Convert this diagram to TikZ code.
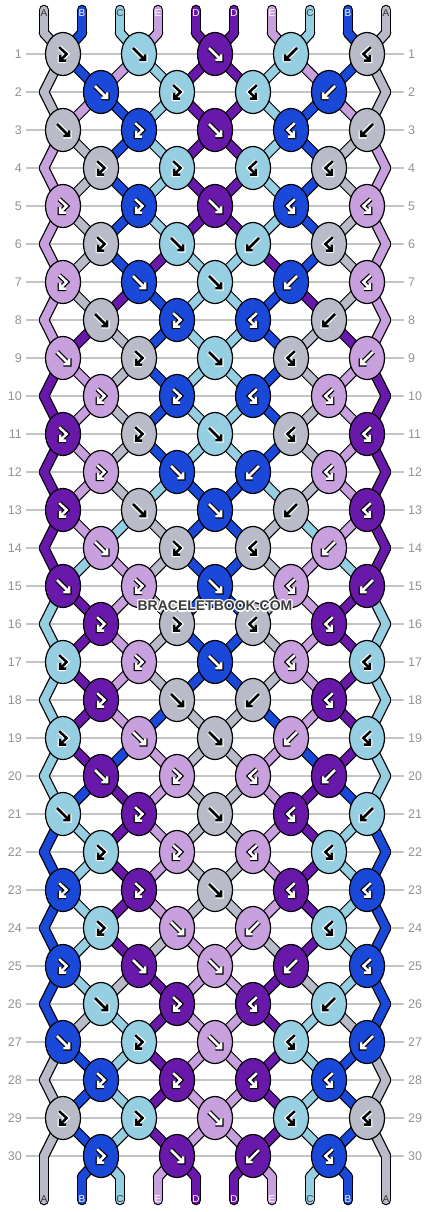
\documentclass[tikz,border=0pt]{standalone}
\usepackage{fontspec}
\setmainfont{Liberation Sans}
\definecolor{cA}{HTML}{B9BCC8}
\definecolor{cB}{HTML}{1A48D8}
\definecolor{cC}{HTML}{96CEE2}
\definecolor{cD}{HTML}{6919AA}
\definecolor{cE}{HTML}{C8A0DE}
\definecolor{gridc}{HTML}{C4C4C4}
\definecolor{numc}{HTML}{939393}
\definecolor{wmark}{HTML}{3C3C3C}
\colorlet{fgA}{black}\colorlet{bgA}{white}
\colorlet{fgC}{black}\colorlet{bgC}{white}
\colorlet{fgB}{white}\colorlet{bgB}{black}
\colorlet{fgD}{white}\colorlet{bgD}{black}
\colorlet{fgE}{white}\colorlet{bgE}{black}
\colorlet{lbA}{black!80}\colorlet{lbC}{black!75}
\colorlet{lbB}{white}\colorlet{lbD}{white}\colorlet{lbE}{white}
\tikzset{
 thrO/.style={line width=10.6, draw=black, line cap=round, line join=round},
 thrI/.style={line width=8.2, line cap=round, line join=round},
 knotst/.style={line width=1.2, draw=black},
 gridline/.style={draw=gridc, line width=1.2},
 rownum/.style={text=numc, font=\fontsize{12.5}{12.5}\selectfont, inner sep=0pt},
 toplab/.style={font=\fontsize{10}{10}\selectfont, inner sep=0pt},
 wm/.style={font=\bfseries\fontsize{14}{14}\selectfont, inner sep=0pt},
}
\newcommand\setpx[2]{%
  \ifnum#1=0 \pgfmathsetmacro\px{44+38*#2}%
  \else\ifnum#1=31 \pgfmathsetmacro\px{44+38*#2}%
  \else\ifodd#1 \pgfmathsetmacro\px{63+76*floor(#2/2)}%
  \else\ifnum#2=0 \def\px{44}%
  \else\ifnum#2=9 \def\px{386}%
  \else\pgfmathsetmacro\px{101+76*floor((#2-1)/2)}%
  \fi\fi\fi\fi\fi}
\newcommand\setpy[1]{%
  \ifnum#1=0 \def\py{33}%
  \else\ifnum#1=31 \def\py{1177}%
  \else\pgfmathsetmacro\py{54+38*(#1-1)}%
  \fi\fi}
\newcommand\seg[4]{%
  \setpx{#1}{#2}\let\xa\px \setpy{#1}\let\ya\py
  \pgfmathtruncatemacro\rn{#1+1}%
  \setpx{\rn}{#2}\setpy{\rn}%
  \edef\segcol{c#3}%
  \ifnum#4=0 \draw[thrO] (\xa,\ya) -- (\px,\py);%
  \else \draw[thrI, draw=\segcol] (\xa,\ya) -- (\px,\py);\fi}
\newcommand\glyph[2]{%
  \ifnum#1=0 \draw[#2] (-6,-6)--(6,6) (0.3,6)--(6,6)--(6,0.3);%
  \else \draw[#2] (-3.8,-6.8)--(3.6,0)--(-2.8,6.6) (-2.8,0.8)--(-2.8,6.6)--(3,6.6);\fi}
\newcommand\knot[5]{%
  \draw[knotst, fill=c#3] (#1,#2) ellipse [x radius=17.5, y radius=21.5];
  \begin{scope}[shift={(#1,#2)}, xscale=#5]
    \glyph{#4}{line width=5, draw=bg#3}
    \glyph{#4}{line width=2.5, draw=fg#3}
  \end{scope}}
\newcommand\oddrow[6]{%
  \pgfmathsetmacro\ky{54+38*(#1-1)}%
  \knot{63}{\ky}{#2}{#3}{1}\knot{367}{\ky}{#2}{#3}{-1}%
  \knot{139}{\ky}{#4}{#5}{1}\knot{291}{\ky}{#4}{#5}{-1}%
  \knot{215}{\ky}{#6}{0}{1}}
\newcommand\evenrow[5]{%
  \pgfmathsetmacro\ky{54+38*(#1-1)}%
  \knot{101}{\ky}{#2}{#3}{1}\knot{329}{\ky}{#2}{#3}{-1}%
  \knot{177}{\ky}{#4}{#5}{1}\knot{253}{\ky}{#4}{#5}{-1}}
\begin{document}
\begin{tikzpicture}[x=1pt,y=-1pt]
\fill[white] (0,0) rectangle (430,1212);
\useasboundingbox (0,0) rectangle (430,1212);
% grid lines and row numbers
\foreach \rw in {1,...,30}{
  \pgfmathsetmacro\gy{54+38*(\rw-1)}
  \draw[gridline] (26,\gy) -- (404,\gy);
  \node[rownum, anchor=east] (nl\rw) at (22,\gy) {\rw};
  \node[rownum, anchor=west] (nr\rw) at (408,\gy) {\rw};
}
% threads: pass 0 outlines, pass 1 colours
\foreach \pass in {0,1}{
  \foreach \i/\lt in {0/A,1/B,2/C,3/E,4/D,5/D,6/E,7/C,8/B,9/A}{
    \pgfmathsetmacro\tx{44+38*\i}
    \edef\segcol{c\lt}
    \ifnum\pass=0 \draw[thrO] (\tx,10)--(\tx,33) (\tx,1177)--(\tx,1200);
    \else \draw[thrI,draw=\segcol] (\tx,10)--(\tx,33) (\tx,1177)--(\tx,1200);\fi
  }
  \foreach \rw/\qa/\qb/\qc/\qd/\qe in {
    0/A/B/C/E/D, 1/A/B/E/C/D, 2/A/E/B/C/D, 3/E/A/B/C/D, 4/E/A/B/C/D,
    5/E/A/B/C/D, 6/E/A/B/D/C, 7/E/A/D/B/C, 8/E/D/A/B/C, 9/D/E/A/B/C,
    10/D/E/A/B/C, 11/D/E/A/B/C, 12/D/E/A/C/B, 13/D/E/C/A/B, 14/D/C/E/A/B,
    15/C/D/E/A/B, 16/C/D/E/A/B, 17/C/D/E/A/B, 18/C/D/E/B/A, 19/C/D/B/E/A,
    20/C/B/D/E/A, 21/B/C/D/E/A, 22/B/C/D/E/A, 23/B/C/D/E/A, 24/B/C/D/A/E,
    25/B/C/A/D/E, 26/B/A/C/D/E, 27/A/B/C/D/E, 28/A/B/C/D/E, 29/A/B/C/D/E,
    30/A/B/C/E/D}{
    \foreach \i/\lt in {0/\qa,1/\qb,2/\qc,3/\qd,4/\qe,5/\qe,6/\qd,7/\qc,8/\qb,9/\qa}{
      \seg{\rw}{\i}{\lt}{\pass}
    }
  }
}
% end labels
\foreach \i/\lt in {0/A,1/B,2/C,3/E,4/D,5/D,6/E,7/C,8/B,9/A}{
  \pgfmathsetmacro\tx{44+38*\i}
  \edef\labcol{lb\lt}
  \node[toplab, text=\labcol] (ta\i) at (\tx,13) {\lt};
  \node[toplab, text=\labcol] (ba\i) at (\tx,1199) {\lt};
}
% knots
\oddrow{1}{A}{1}{C}{0}{D}
\oddrow{3}{A}{0}{B}{1}{D}
\oddrow{5}{E}{1}{B}{1}{D}
\oddrow{7}{E}{1}{B}{0}{C}
\oddrow{9}{E}{0}{A}{1}{C}
\oddrow{11}{D}{1}{A}{1}{C}
\oddrow{13}{D}{1}{A}{0}{B}
\oddrow{15}{D}{0}{E}{1}{B}
\oddrow{17}{C}{1}{E}{1}{B}
\oddrow{19}{C}{1}{E}{0}{A}
\oddrow{21}{C}{0}{D}{1}{A}
\oddrow{23}{B}{1}{D}{1}{A}
\oddrow{25}{B}{1}{D}{0}{E}
\oddrow{27}{B}{0}{C}{1}{E}
\oddrow{29}{A}{1}{C}{1}{E}
\evenrow{2}{B}{0}{C}{1}
\evenrow{4}{A}{1}{C}{1}
\evenrow{6}{A}{1}{C}{0}
\evenrow{8}{A}{0}{B}{1}
\evenrow{10}{E}{1}{B}{1}
\evenrow{12}{E}{1}{B}{0}
\evenrow{14}{E}{0}{A}{1}
\evenrow{16}{D}{1}{A}{1}
\evenrow{18}{D}{1}{A}{0}
\evenrow{20}{D}{0}{E}{1}
\evenrow{22}{C}{1}{E}{1}
\evenrow{24}{C}{1}{E}{0}
\evenrow{26}{C}{0}{D}{1}
\evenrow{28}{B}{1}{D}{1}
\evenrow{30}{B}{1}{D}{0}
% watermark
\foreach \dx/\dy in {1.2/0,-1.2/0,0/1.2,0/-1.2,0.9/0.9,-0.9/0.9,0.9/-0.9,-0.9/-0.9}{
  \node[wm, text=white] at (215+\dx,606+\dy) {BRACELETBOOK.COM};
}
\node[wm, text=wmark] (wmk) at (215,606) {BRACELETBOOK.COM};
\end{tikzpicture}
\end{document}
